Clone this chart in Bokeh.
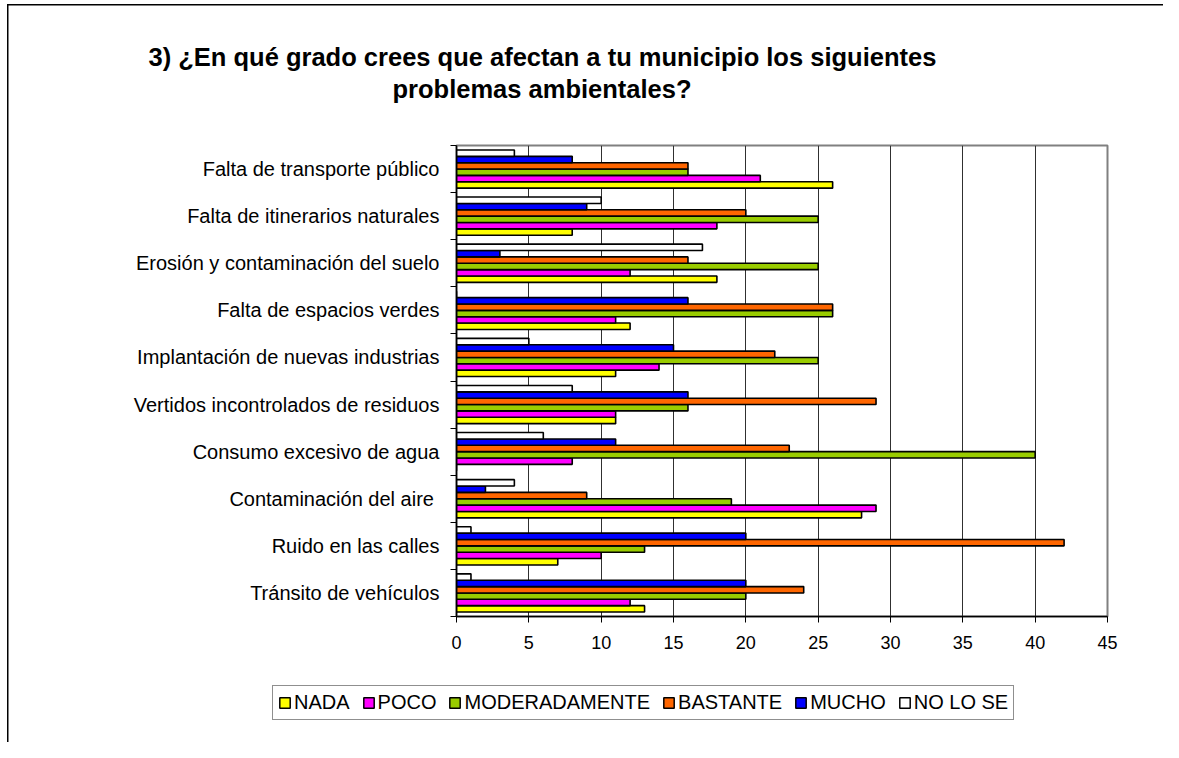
from bokeh.plotting import figure
from bokeh.models import (Range1d, FixedTicker, Legend, LegendItem, Title,
                          ColumnDataSource)
from bokeh.transform import dodge
from bokeh.embed import file_html
from bokeh.resources import INLINE

# ---------------- data (top to bottom as in the chart) ----------------
categories = [
    "Falta de transporte público",
    "Falta de itinerarios naturales",
    "Erosión y contaminación del suelo",
    "Falta de espacios verdes",
    "Implantación de nuevas industrias",
    "Vertidos incontrolados de residuos",
    "Consumo excesivo de agua",
    "Contaminación del aire ",
    "Ruido en las calles",
    "Tránsito de vehículos",
]
series_names = ["NADA", "POCO", "MODERADAMENTE", "BASTANTE", "MUCHO", "NO LO SE"]
nada          = [26, 8, 18, 12, 11, 11, 0, 28, 7, 13]
poco          = [21, 18, 12, 11, 14, 11, 8, 29, 10, 12]
moderadamente = [16, 25, 25, 26, 25, 16, 40, 19, 13, 20]
bastante      = [16, 20, 16, 26, 22, 29, 23, 9, 42, 24]
mucho         = [8, 9, 3, 16, 15, 16, 11, 2, 20, 20]
no_lo_se      = [4, 10, 17, 0, 5, 8, 6, 4, 1, 1]
x_ticks = [0, 5, 10, 15, 20, 25, 30, 35, 40, 45]
title_line1 = "3) ¿En qué grado crees que afectan a tu municipio los siguientes"
title_line2 = "problemas ambientales?"

series_values = [nada, poco, moderadamente, bastante, mucho, no_lo_se]
colors = ["#FFFF00", "#FF00FF", "#99CC00", "#FF6600", "#0000FF", "#FFFFFF"]

n = len(categories)
ypos = [n - 1 - k + 0.5 for k in range(n)]  # category centres, first at top
data = {"ypos": ypos, "cat": categories}
for name, vals in zip(series_names, series_values):
    data[name] = vals
src = ColumnDataSource(data)

FONT = "Liberation Sans"
W = 1163
H_MAIN = 680
H_LEG = 62

p = figure(width=W, height=H_MAIN, output_backend="svg", toolbar_location=None,
           tools="", x_range=Range1d(0, 45), y_range=Range1d(0, n),
           min_border_left=456, min_border_right=56,
           min_border_top=145, min_border_bottom=64)
p.background_fill_color = "white"
p.border_fill_color = None
p.outline_line_color = "#808080"
p.outline_line_width = 2
# outer chart frame (left and top edges) painted behind the transparent canvas
p.styles = {
    "background-color": "white",
    "background-image": "linear-gradient(#000,#000), linear-gradient(#000,#000)",
    "background-size": "1.5px 100%, 1156px 1.5px",
    "background-position": "7px 4px, 7px 4px",
    "background-repeat": "no-repeat",
}

bar_h = 0.135
renderers = []
for i, (name, col) in enumerate(zip(series_names, colors)):
    off = (i - 2.5) * bar_h
    r = p.hbar(y=dodge("ypos", off), left=0, right=name, height=bar_h,
               source=src, fill_color=col, line_color="black", line_width=1.6)
    renderers.append(r)

# ---- axes ----
xax = p.xaxis[0]
xax.ticker = FixedTicker(ticks=x_ticks, minor_ticks=[])
xax.major_tick_in = 0
xax.major_tick_out = 6
xax.major_tick_line_color = "black"
xax.axis_line_color = "black"
xax.axis_line_width = 1.5
xax.major_label_text_font = FONT
xax.major_label_text_font_size = "18px"
xax.major_label_text_color = "black"
xax.major_label_standoff = 13

yax = p.yaxis[0]
yax.ticker = FixedTicker(ticks=ypos, minor_ticks=list(range(n + 1)))
yax.major_label_overrides = {y: c for y, c in zip(ypos, categories)}
yax.major_tick_line_color = None
yax.major_tick_in = 0
yax.major_tick_out = 5
yax.minor_tick_in = 0
yax.minor_tick_out = 6
yax.minor_tick_line_color = "black"
yax.axis_line_color = "black"
yax.axis_line_width = 1.5
yax.major_label_text_font = FONT
yax.major_label_text_font_size = "20px"
yax.major_label_text_color = "black"
yax.major_label_standoff = 11

p.xgrid.ticker = FixedTicker(ticks=x_ticks)
p.xgrid.grid_line_color = "#303030"
p.xgrid.grid_line_width = 1
p.ygrid.grid_line_color = None

# ---- title (two lines, stacked above the plot) ----
p.title.text = ""
spacer_top = Title(text=".", text_color="white", text_font_size="2px", standoff=39)
t2 = Title(text=title_line2, align="left", offset=-64, standoff=2,
           text_font=FONT, text_font_style="bold", text_font_size="25.5px",
           text_color="black")
t1 = Title(text=title_line1, align="left", offset=-308, standoff=2,
           text_font=FONT, text_font_style="bold", text_font_size="25.5px",
           text_color="black")
p.add_layout(spacer_top, "above")
p.add_layout(t2, "above")
p.add_layout(t1, "above")

# ---- legend strip below the chart (keys styled like the bars) ----
q = figure(width=W, height=H_LEG, output_backend="svg", toolbar_location=None,
           tools="", x_axis_type=None, y_axis_type=None,
           x_range=Range1d(0, 1), y_range=Range1d(0, 1),
           min_border_left=0, min_border_right=0, min_border_top=0,
           min_border_bottom=0)
q.title.text = ""
q.background_fill_color = None
q.border_fill_color = None
q.outline_line_color = None
q.grid.visible = False
q.styles = {
    "background-color": "white",
    "background-image": "linear-gradient(#000,#000)",
    "background-size": "1.5px 100%",
    "background-position": "7px 0px",
    "background-repeat": "no-repeat",
}
key_src = ColumnDataSource({"y": [0.5], "v": [0.0]})
keys = [q.hbar(y="y", right="v", height=0.5, source=key_src, fill_color=col,
               line_color="black", line_width=1.5, visible=False)
        for col in colors]
legend = Legend(items=[LegendItem(label=nm, renderers=[k])
                       for nm, k in zip(series_names, keys)],
                location=(272, 22), orientation="horizontal",
                glyph_width=13, glyph_height=13, label_standoff=3,
                spacing=12, padding=5, margin=0, label_height=20,
                label_text_font=FONT, label_text_font_size="20px",
                label_text_color="black",
                border_line_color="#202020", border_line_width=1,
                background_fill_color="white", background_fill_alpha=1)
q.add_layout(legend)

open("out.html", "w").write(file_html([p, q], INLINE))
